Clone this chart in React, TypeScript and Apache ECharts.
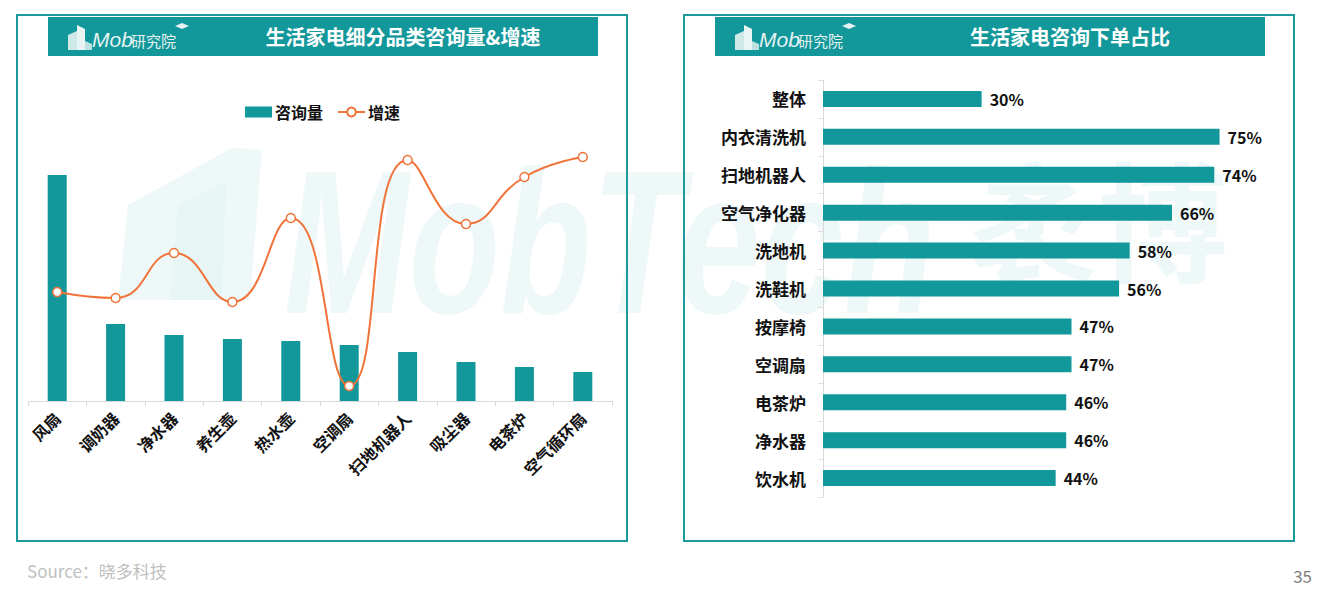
import React, { useEffect, useRef } from "react";
import * as echarts from "echarts";

// Left chart: consultation volume & growth by sub-category
const barCats = ["风扇", "调奶器", "净水器", "养生壶", "热水壶", "空调扇", "扫地机器人", "吸尘器", "电茶炉", "空气循环扇"];
const volume = [226, 77, 66, 62, 60, 56, 49, 39, 34, 29];
const growth = [109, 103, 148, 99, 183, 15, 241, 177, 224, 244];

// Right chart: consultation-to-order ratio
const orderCats = ["整体", "内衣清洗机", "扫地机器人", "空气净化器", "洗地机", "洗鞋机", "按摩椅", "空调扇", "电茶炉", "净水器", "饮水机"];
const orderRate = [30, 75, 74, 66, 58, 56, 47, 47, 46, 46, 44];

const TEAL = "#12979a";
const ORANGE = "#f0743a";
const FONT = "'Noto Sans CJK SC', 'Noto Sans', sans-serif";

function logo(x: number, y: number) {
  return {
    type: "group",
    x,
    y,
    children: [
      { type: "polygon", shape: { points: [[0, 25], [0, 10], [9, 6], [9, 25]] }, style: { fill: "#cfe9e9" } },
      { type: "polygon", shape: { points: [[9, 25], [9, 0], [17, 4], [17, 25]] }, style: { fill: "#e9f5f5" } },
      { type: "polygon", shape: { points: [[17, 25], [17, 16], [24, 19], [24, 25]] }, style: { fill: "#bfe0e0" } },
      { type: "text", x: 24, y: 14, style: { text: "Mob", font: "italic 21px 'Liberation Sans Narrow', 'Liberation Sans', sans-serif", fill: "#e6f3f3", verticalAlign: "middle" } },
      { type: "text", x: 63, y: 15, style: { text: "研究院", font: "15px " + FONT, fill: "#e6f3f3", verticalAlign: "middle" } },
      { type: "polygon", shape: { points: [[107, 1], [114, -2], [121, 1], [114, 4]] }, style: { fill: "#e6f3f3" } },
    ],
  };
}

export default function App() {
  const ref = useRef<HTMLDivElement>(null);
  useEffect(() => {
    if (!ref.current) return;
    const chart = echarts.init(ref.current, undefined, { renderer: "svg" });
    const wm = "rgba(19,152,154,0.07)";
    chart.setOption({
      animation: false,
      textStyle: { fontFamily: FONT },
      graphic: [
        // watermark
        { type: "polygon", z: -20, shape: { points: [[118, 300], [128, 205], [232, 148], [262, 150], [250, 300]] }, style: { fill: wm } },
        { type: "polygon", z: -20, shape: { points: [[170, 300], [178, 205], [226, 182], [222, 300]] }, style: { fill: "rgba(19,152,154,0.03)" } },
        { type: "text", z: -20, x: 284, y: 140, scaleX: 0.73, style: { text: "MobTech", font: "italic bold 205px 'Liberation Sans', sans-serif", fill: wm } },
        { type: "text", z: -20, x: 968, y: 150, style: { text: "袤博", font: "bold 130px " + FONT, fill: wm } },
        // panels
        { type: "rect", shape: { x: 17, y: 15, width: 610, height: 526 }, style: { fill: "transparent", stroke: "#1b9a9c", lineWidth: 2 } },
        { type: "rect", shape: { x: 684, y: 15, width: 610, height: 526 }, style: { fill: "transparent", stroke: "#1b9a9c", lineWidth: 2 } },
        { type: "rect", shape: { x: 48, y: 17, width: 550, height: 39 }, style: { fill: TEAL } },
        { type: "rect", shape: { x: 715, y: 17, width: 550, height: 39 }, style: { fill: TEAL } },
        { type: "text", x: 403, y: 36, style: { text: "生活家电细分品类咨询量&增速", font: "bold 20px " + FONT, fill: "#ffffff", align: "center", verticalAlign: "middle" } },
        { type: "text", x: 1070, y: 36, style: { text: "生活家电咨询下单占比", font: "bold 20px " + FONT, fill: "#ffffff", align: "center", verticalAlign: "middle" } },
        logo(68, 25),
        logo(735, 25),
        { type: "text", x: 27, y: 570, style: { text: "Source：晓多科技", font: "17px " + FONT, fill: "#bfbfbf", verticalAlign: "middle" } },
        { type: "text", x: 1312, y: 575, style: { text: "35", font: "17px " + FONT, fill: "#808080", align: "right", verticalAlign: "middle" } },
      ],
      legend: {
        left: 240,
        top: 99,
        itemGap: 14,
        itemWidth: 27,
        itemHeight: 11,
        textStyle: { fontSize: 16, fontWeight: "bold", color: "#111", fontFamily: FONT, padding: [0, 0, 0, -2] },
        data: [
          { name: "咨询量", icon: "rect" },
          { name: "增速" },
        ],
      },
      grid: [
        { left: 28, width: 584, top: 101, height: 300 },
        { left: 823, width: 423, top: 80, height: 417 },
      ],
      xAxis: [
        {
          type: "category",
          gridIndex: 0,
          data: barCats,
          boundaryGap: true,
          axisLine: { lineStyle: { color: "#d9d9d9" } },
          axisTick: { show: true, length: 5, lineStyle: { color: "#d9d9d9" } },
          axisLabel: { rotate: 45, interval: 0, fontSize: 16, fontWeight: "bold", color: "#111", margin: 14, fontFamily: FONT },
        },
        {
          type: "value",
          gridIndex: 1,
          min: 0,
          max: 80,
          show: false,
        },
      ],
      yAxis: [
        { type: "value", gridIndex: 0, min: 0, max: 300, show: false },
        { type: "value", gridIndex: 0, min: 0, max: 300, show: false },
        {
          type: "category",
          gridIndex: 1,
          data: orderCats,
          inverse: true,
          axisLine: { lineStyle: { color: "#d9d9d9" } },
          axisTick: { show: true, length: 5, lineStyle: { color: "#ecd9dc" } },
          axisLabel: { fontSize: 17, fontWeight: "bold", color: "#111", margin: 17, fontFamily: FONT },
        },
      ],
      series: [
        {
          name: "咨询量",
          type: "bar",
          xAxisIndex: 0,
          yAxisIndex: 0,
          data: volume,
          barWidth: 19,
          itemStyle: { color: TEAL },
        },
        {
          name: "增速",
          type: "line",
          xAxisIndex: 0,
          yAxisIndex: 1,
          data: growth,
          smooth: 0.5,
          symbol: "circle",
          symbolSize: 9,
          lineStyle: { color: ORANGE, width: 2 },
          itemStyle: { color: "#ffffff", borderColor: ORANGE, borderWidth: 1.5 },
        },
        {
          name: "下单占比",
          type: "bar",
          xAxisIndex: 1,
          yAxisIndex: 2,
          data: orderRate,
          barWidth: 16,
          itemStyle: { color: TEAL },
          label: {
            show: true,
            position: "right",
            distance: 8,
            formatter: "{c}%",
            fontSize: 16,
            fontWeight: "bold",
            color: "#111",
            fontFamily: FONT,
          },
        },
      ],
    });
    return () => chart.dispose();
  }, []);
  return <div ref={ref} style={{ position: "fixed", left: 0, top: 0, width: 1326, height: 596, background: "#fff" }} />;
}
